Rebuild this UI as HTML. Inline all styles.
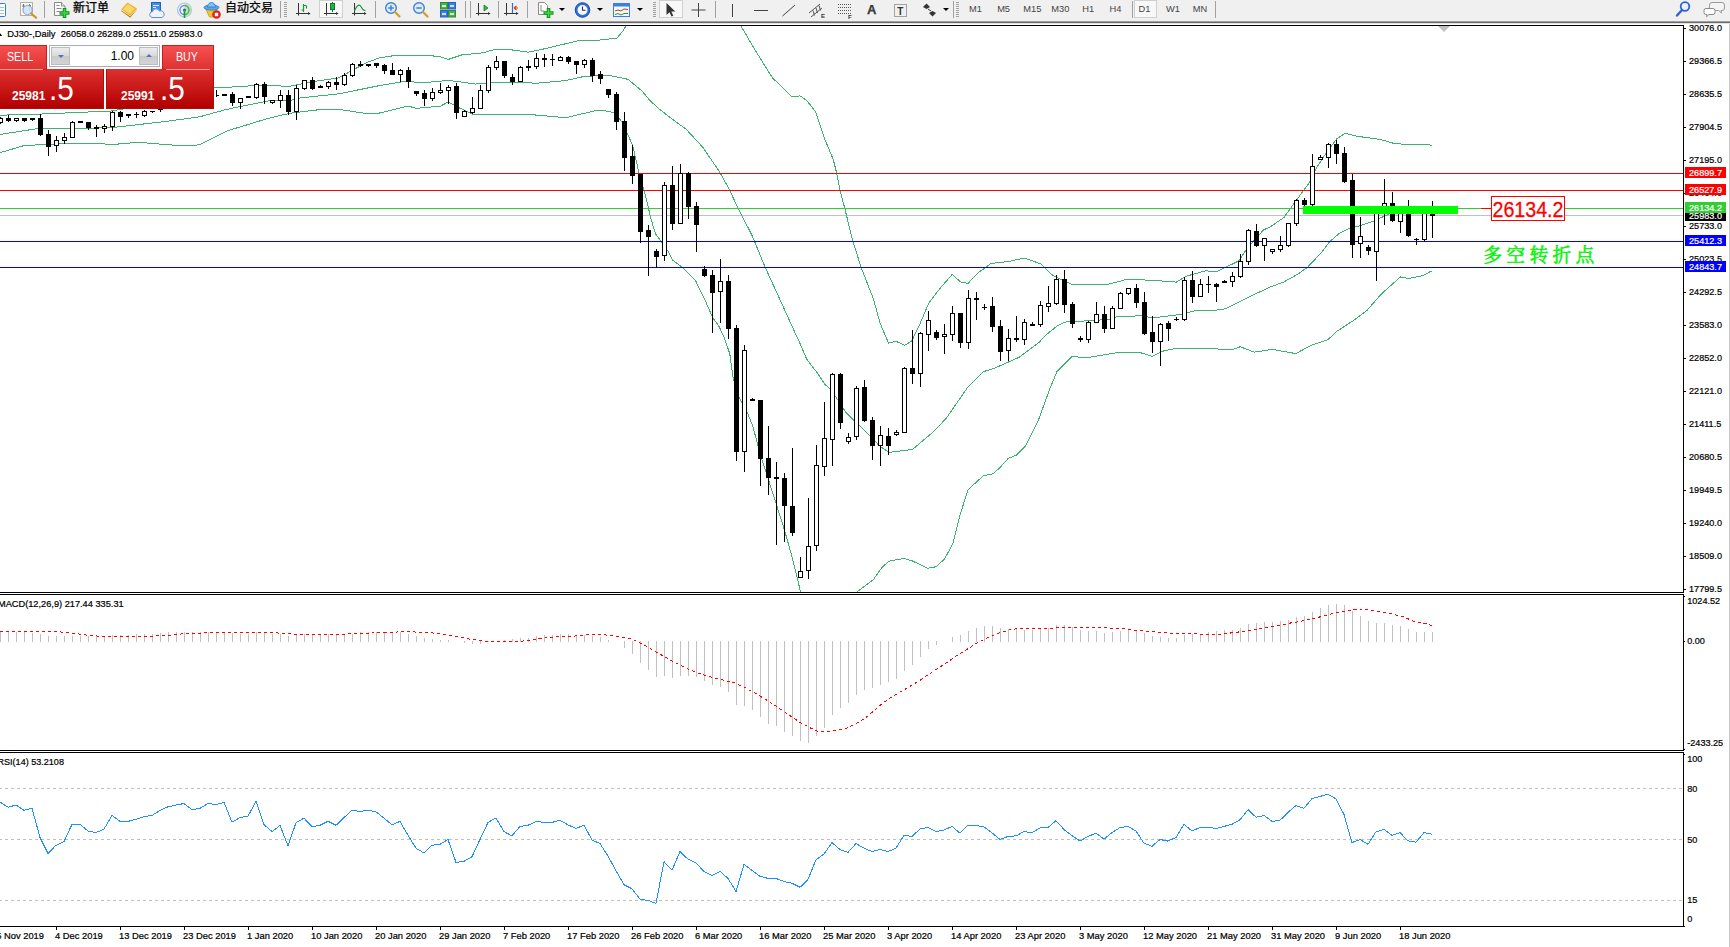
<!DOCTYPE html>
<html lang="zh">
<head>
<meta charset="utf-8">
<title>DJ30-,Daily</title>
<style>
html,body{margin:0;padding:0;background:#fff}
body{width:1730px;height:947px;overflow:hidden;position:relative;font-family:"Liberation Sans","Noto Sans CJK SC",sans-serif}
svg text{white-space:pre}
.tb{position:absolute;left:0;top:0;width:1730px;height:21px}
.tb .t{position:absolute;top:0;height:18px;line-height:17px;font-size:12px;color:#000;white-space:nowrap;font-weight:400;-webkit-text-stroke:0.25px #000}
.tb .p{position:absolute;top:2px;height:15px;line-height:15px;font-size:9.3px;color:#444;text-align:center;width:30px;margin-left:-15px}
.tb .sep{position:absolute;top:1px;width:1px;height:17px;background:#a0a0a0}
.tb .grip{position:absolute;top:2px;width:3px;height:15px;background:repeating-linear-gradient(#a0a0a0 0 1px,#f0f0f0 1px 2px)}
.tb .pressed{position:absolute;top:0;height:18px;background:#f8f8f8;border:1px solid #d0d0d0;box-sizing:border-box}
.tb svg{position:absolute;top:0;overflow:visible}
.dd{position:absolute;top:8px;width:0;height:0;border-left:3px solid transparent;border-right:3px solid transparent;border-top:3px solid #000}
.trade{position:absolute;left:0;top:45px;width:215px;height:65px}
.trade .sell,.trade .buy{position:absolute;top:0;height:25px;background:linear-gradient(#f55050,#e03232);border:1px solid #c81e1e;box-sizing:border-box;color:#fff;font-size:12px;line-height:22px}
.trade .sell{left:-1px;width:48px;padding-left:6.500px}
.trade .buy{left:162px;width:52px;padding-left:13px}
.trade .nx{display:inline-block;transform:scaleX(.89);transform-origin:0 50%}
.trade .sl,.trade .bl{position:absolute;top:24px;height:1px;background:#f7a0a0}
.trade .sl{left:0;width:43px}
.trade .bl{left:166px;width:44px}
.trade .big{position:absolute;top:24px;height:40px;background:linear-gradient(#de3030,#b20000);border:1px solid #b80a0a;border-top:none;box-sizing:border-box;color:#fff}
.trade .big.s{left:-1px;width:105px}
.trade .big.b{left:106px;width:108px}
.trade .sm{position:absolute;bottom:6px;font-size:12px;font-weight:bold;line-height:12px}
.trade .lg{position:absolute;bottom:3.5px;font-size:33px;line-height:33px;transform:scaleX(.9);transform-origin:0 0}
.vol{position:absolute;left:49px;top:0;width:111px;height:22px;border:1px solid #a8adb8;box-sizing:border-box;background:#fff}
.vol .sp{position:absolute;top:1px;width:19px;height:18px;background:linear-gradient(#ececec,#d9d9d9 50%,#c9c9c9 51%,#d4d4d4);border:1px solid #b8bcc4;box-sizing:border-box}
.vol .v{position:absolute;right:25px;top:0;font-size:12px;line-height:20px;color:#000}
.tri-d{position:absolute;left:6px;top:7px;width:0;height:0;border-left:3px solid transparent;border-right:3px solid transparent;border-top:3.500px solid #5a6cd0}
.tri-u{position:absolute;left:6px;top:6px;width:0;height:0;border-left:3px solid transparent;border-right:3px solid transparent;border-bottom:3.500px solid #5a6cd0}
</style>
</head>
<body>
<svg width="1730" height="947" viewBox="0 0 1730 947" style="position:absolute;left:0;top:0" shape-rendering="crispEdges">
<defs><clipPath id="cm"><rect x="0" y="26" width="1683" height="566"/></clipPath></defs>
<rect x="0" y="0" width="1730" height="947" fill="#fff"/>
<rect x="0" y="0" width="1730" height="21" fill="#f0f0f0"/>
<rect x="0" y="21" width="1730" height="1" fill="#a0a0a0"/>
<rect x="0" y="22" width="1730" height="1" fill="#696969"/>
<rect x="0" y="23" width="1730" height="1" fill="#e3e3e3"/>
<rect x="0" y="25" width="1684" height="1" fill="#000"/>
<rect x="0" y="592" width="1684" height="1" fill="#000"/>
<rect x="0" y="594" width="1684" height="1" fill="#000"/>
<rect x="0" y="750" width="1684" height="1" fill="#000"/>
<rect x="0" y="752" width="1684" height="1" fill="#000"/>
<rect x="0" y="926" width="1684" height="1" fill="#000"/>
<rect x="1683" y="25" width="1" height="568" fill="#000"/>
<rect x="1683" y="594" width="1" height="157" fill="#000"/>
<rect x="1683" y="752" width="1" height="175" fill="#000"/>
<rect x="1729" y="24" width="1" height="923" fill="#c8c8c8"/>
<g clip-path="url(#cm)">
<rect x="0" y="215" width="1683" height="1" fill="#c0c0c0"/>
<polyline points="0.0,115.2 40.0,114.1 111.0,111.0 140.0,106.0 170.0,99.0 200.0,91.0 216.0,87.4 236.0,86.9 255.5,85.5 290.0,86.2 315.0,81.3 338.7,77.9 352.6,70.2 366.5,62.6 380.0,57.7 397.0,55.2 427.5,55.2 440.8,57.0 448.4,59.4 461.6,55.0 482.4,52.9 496.3,49.1 506.0,49.1 528.2,52.2 544.9,48.7 579.5,40.4 600.4,40.0 617.0,38.0 623.2,30.7 627.0,24.0 640.0,0.0" fill="none" stroke="#3cb371" stroke-width="1"/>
<polyline points="730.0,0.0 740.9,25.9 754.8,49.6 772.2,77.5 791.4,96.6 800.1,95.9 807.1,100.8 815.8,112.3 824.5,138.4 833.2,159.3 836.7,173.3 840.2,190.7 844.7,208.1 852.4,239.4 861.1,267.3 873.3,298.6 880.0,322.8 883.7,331.7 888.6,343.2 895.6,341.2 904.7,345.2 911.8,341.0 920.3,323.0 928.8,303.0 939.7,288.8 952.3,274.3 960.5,282.0 968.1,283.3 977.1,273.6 991.0,263.5 1009.0,261.4 1024.3,258.0 1040.9,263.9 1052.0,274.7 1060.4,279.4 1072.1,284.4 1107.5,284.4 1120.0,281.2 1127.7,279.1 1158.3,280.7 1176.3,282.1 1186.0,276.3 1205.4,270.8 1216.5,271.7 1238.7,261.0 1247.0,248.6 1263.7,229.8 1270.0,227.0 1283.9,217.5 1297.7,198.5 1308.8,183.3 1317.2,166.6 1325.5,154.1 1336.6,138.9 1344.9,133.3 1356.0,136.1 1381.0,139.6 1394.9,143.7 1408.7,144.4 1428.2,144.4 1432.0,145.5" fill="none" stroke="#3cb371" stroke-width="1"/>
<polyline points="0.0,134.4 39.0,128.4 69.0,128.8 111.0,127.7 166.5,121.4 200.0,116.7 225.0,109.8 240.0,106.6 269.4,100.8 288.8,100.8 300.0,98.0 338.7,93.8 380.0,85.5 405.0,81.3 422.0,82.7 440.0,81.3 447.7,80.2 475.5,84.1 492.0,82.4 538.0,83.1 565.7,80.6 583.7,76.5 607.3,75.1 628.0,79.3 642.0,91.0 650.0,100.5 658.3,108.3 673.5,120.1 686.0,129.1 702.7,147.2 719.3,171.4 729.0,188.8 738.7,209.6 749.8,231.0 752.6,236.6 765.1,267.2 780.4,300.5 794.2,331.0 798.5,340.0 806.8,359.4 816.5,371.9 824.9,384.4 829.7,388.6 838.7,401.0 845.7,412.1 854.0,420.5 869.3,435.0 879.0,445.4 888.7,452.4 899.8,451.0 912.5,449.4 930.6,434.2 945.8,418.9 968.0,386.9 983.3,371.7 994.4,368.3 1019.4,357.2 1038.9,342.5 1046.5,334.6 1057.6,325.6 1065.9,321.9 1088.1,320.8 1108.9,319.4 1118.0,316.5 1141.6,315.8 1152.7,317.9 1180.5,314.5 1197.1,310.3 1215.2,310.3 1224.9,308.9 1245.7,298.5 1269.3,287.4 1283.9,281.9 1297.7,274.2 1307.5,267.3 1321.3,252.7 1329.7,241.6 1339.4,233.3 1347.7,229.1 1360.2,225.7 1372.7,221.5 1389.3,213.9 1410.0,211.5 1432.0,211.0" fill="none" stroke="#3cb371" stroke-width="1"/>
<polyline points="0.0,152.7 23.6,145.7 45.8,144.3 77.7,143.2 115.0,144.3 138.7,142.3 180.0,145.7 194.0,145.7 200.0,144.5 227.7,130.6 240.0,127.0 266.6,118.8 290.0,113.2 324.9,109.0 338.7,109.4 366.5,113.5 377.6,113.5 408.0,106.0 416.4,108.4 440.8,106.0 448.4,101.9 456.0,106.3 472.7,114.2 531.0,114.6 565.7,117.7 597.6,110.2 600.0,110.0 613.9,112.5 622.2,122.2 632.6,145.1 638.8,172.1 645.8,197.1 651.3,220.0 655.5,233.9 661.7,242.2 668.0,251.2 672.8,260.2 683.2,267.9 695.7,281.0 704.0,297.7 712.4,317.1 719.3,326.8 724.9,339.3 729.8,353.9 733.3,378.8 739.5,398.3 747.2,412.1 752.7,426.0 757.6,444.0 762.4,461.0 774.9,499.8 784.6,530.4 791.6,555.3 797.1,577.5 800.6,592.0 810.0,625.0 830.0,640.0 850.0,610.0 856.8,592.0 873.4,579.6 881.7,567.8 888.7,561.2 903.9,558.4 912.3,560.9 927.8,568.3 936.1,566.7 944.4,559.2 952.8,543.9 959.7,516.1 968.0,489.7 983.3,475.8 993.0,473.9 1000.0,467.5 1008.3,458.3 1016.7,455.0 1025.0,446.7 1038.9,418.9 1050.0,388.3 1056.9,371.7 1064.5,363.8 1072.2,356.4 1086.1,357.8 1116.7,352.8 1138.9,352.2 1152.2,356.4 1163.9,350.8 1177.8,348.0 1233.3,349.4 1240.3,346.7 1254.2,352.2 1272.2,349.4 1295.8,353.6 1311.1,345.3 1327.8,339.7 1337.3,331.0 1353.2,320.7 1367.1,310.3 1381.0,294.3 1400.4,277.0 1408.7,278.4 1422.6,275.6 1431.6,271.0" fill="none" stroke="#3cb371" stroke-width="1"/>
<rect x="0" y="173" width="1683" height="1" fill="#ff0000"/>
<rect x="0" y="190" width="1683" height="1" fill="#ff0000"/>
<rect x="0" y="208" width="1683" height="1" fill="#32cd32"/>
<rect x="0" y="241" width="1683" height="1" fill="#0000ff"/>
<rect x="0" y="267" width="1683" height="1" fill="#0000ff"/>
<rect x="0" y="117" width="1" height="7" fill="#000"/>
<rect x="-2" y="118" width="5" height="5" fill="#000"/>
<rect x="-1" y="119" width="3" height="3" fill="#fff"/>
<rect x="8" y="115" width="1" height="7" fill="#000"/>
<rect x="6" y="118" width="5" height="3" fill="#000"/>
<rect x="16" y="118" width="1" height="4" fill="#000"/>
<rect x="14" y="118" width="5" height="3" fill="#000"/>
<rect x="15" y="119" width="3" height="1" fill="#fff"/>
<rect x="24" y="118" width="1" height="4" fill="#000"/>
<rect x="22" y="118" width="5" height="3" fill="#000"/>
<rect x="32" y="118" width="1" height="3" fill="#000"/>
<rect x="30" y="118" width="5" height="2" fill="#000"/>
<rect x="40" y="114" width="1" height="22" fill="#000"/>
<rect x="38" y="118" width="5" height="17" fill="#000"/>
<rect x="48" y="130" width="1" height="26" fill="#000"/>
<rect x="46" y="134" width="5" height="13" fill="#000"/>
<rect x="56" y="136" width="1" height="16" fill="#000"/>
<rect x="54" y="140" width="5" height="6" fill="#000"/>
<rect x="55" y="141" width="3" height="4" fill="#fff"/>
<rect x="64" y="133" width="1" height="11" fill="#000"/>
<rect x="62" y="137" width="5" height="4" fill="#000"/>
<rect x="63" y="138" width="3" height="2" fill="#fff"/>
<rect x="72" y="121" width="1" height="17" fill="#000"/>
<rect x="70" y="122" width="5" height="16" fill="#000"/>
<rect x="71" y="123" width="3" height="14" fill="#fff"/>
<rect x="80" y="121" width="1" height="2" fill="#000"/>
<rect x="78" y="121" width="5" height="2" fill="#000"/>
<rect x="88" y="122" width="1" height="8" fill="#000"/>
<rect x="86" y="122" width="5" height="6" fill="#000"/>
<rect x="96" y="125" width="1" height="12" fill="#000"/>
<rect x="94" y="127" width="5" height="2" fill="#000"/>
<rect x="104" y="124" width="1" height="9" fill="#000"/>
<rect x="102" y="126" width="5" height="3" fill="#000"/>
<rect x="103" y="127" width="3" height="1" fill="#fff"/>
<rect x="112" y="111" width="1" height="20" fill="#000"/>
<rect x="110" y="112" width="5" height="15" fill="#000"/>
<rect x="111" y="113" width="3" height="13" fill="#fff"/>
<rect x="120" y="111" width="1" height="11" fill="#000"/>
<rect x="118" y="112" width="5" height="5" fill="#000"/>
<rect x="128" y="114" width="1" height="4" fill="#000"/>
<rect x="126" y="114" width="5" height="2" fill="#000"/>
<rect x="136" y="112" width="1" height="6" fill="#000"/>
<rect x="134" y="114" width="5" height="1" fill="#000"/>
<rect x="144" y="110" width="1" height="7" fill="#000"/>
<rect x="142" y="111" width="5" height="5" fill="#000"/>
<rect x="143" y="112" width="3" height="3" fill="#fff"/>
<rect x="152" y="111" width="1" height="2" fill="#000"/>
<rect x="150" y="111" width="5" height="1" fill="#000"/>
<rect x="160" y="108" width="1" height="4" fill="#000"/>
<rect x="158" y="109" width="5" height="1" fill="#000"/>
<rect x="168" y="103" width="1" height="5" fill="#000"/>
<rect x="166" y="104" width="5" height="3" fill="#000"/>
<rect x="167" y="105" width="3" height="1" fill="#fff"/>
<rect x="176" y="102" width="1" height="4" fill="#000"/>
<rect x="174" y="103" width="5" height="3" fill="#000"/>
<rect x="175" y="104" width="3" height="1" fill="#fff"/>
<rect x="184" y="100" width="1" height="4" fill="#000"/>
<rect x="182" y="101" width="5" height="3" fill="#000"/>
<rect x="183" y="102" width="3" height="1" fill="#fff"/>
<rect x="192" y="98" width="1" height="5" fill="#000"/>
<rect x="190" y="99" width="5" height="3" fill="#000"/>
<rect x="191" y="100" width="3" height="1" fill="#fff"/>
<rect x="200" y="96" width="1" height="4" fill="#000"/>
<rect x="198" y="97" width="5" height="3" fill="#000"/>
<rect x="199" y="98" width="3" height="1" fill="#fff"/>
<rect x="208" y="93" width="1" height="5" fill="#000"/>
<rect x="206" y="94" width="5" height="3" fill="#000"/>
<rect x="207" y="95" width="3" height="1" fill="#fff"/>
<rect x="216" y="90" width="1" height="7" fill="#000"/>
<rect x="216" y="95" width="3" height="1" fill="#000"/>
<rect x="224" y="94" width="1" height="2" fill="#000"/>
<rect x="222" y="94" width="5" height="2" fill="#000"/>
<rect x="232" y="92" width="1" height="14" fill="#000"/>
<rect x="230" y="94" width="5" height="9" fill="#000"/>
<rect x="240" y="98" width="1" height="11" fill="#000"/>
<rect x="238" y="98" width="5" height="5" fill="#000"/>
<rect x="239" y="99" width="3" height="3" fill="#fff"/>
<rect x="248" y="96" width="1" height="2" fill="#000"/>
<rect x="246" y="96" width="5" height="2" fill="#000"/>
<rect x="256" y="83" width="1" height="16" fill="#000"/>
<rect x="254" y="84" width="5" height="14" fill="#000"/>
<rect x="255" y="85" width="3" height="12" fill="#fff"/>
<rect x="264" y="82" width="1" height="22" fill="#000"/>
<rect x="262" y="84" width="5" height="13" fill="#000"/>
<rect x="272" y="100" width="1" height="4" fill="#000"/>
<rect x="270" y="100" width="5" height="3" fill="#000"/>
<rect x="271" y="101" width="3" height="1" fill="#fff"/>
<rect x="280" y="90" width="1" height="18" fill="#000"/>
<rect x="278" y="95" width="5" height="6" fill="#000"/>
<rect x="279" y="96" width="3" height="4" fill="#fff"/>
<rect x="288" y="90" width="1" height="25" fill="#000"/>
<rect x="286" y="95" width="5" height="17" fill="#000"/>
<rect x="296" y="85" width="1" height="35" fill="#000"/>
<rect x="294" y="88" width="5" height="24" fill="#000"/>
<rect x="295" y="89" width="3" height="22" fill="#fff"/>
<rect x="304" y="80" width="1" height="10" fill="#000"/>
<rect x="302" y="80" width="5" height="9" fill="#000"/>
<rect x="303" y="81" width="3" height="7" fill="#fff"/>
<rect x="312" y="77" width="1" height="13" fill="#000"/>
<rect x="310" y="80" width="5" height="9" fill="#000"/>
<rect x="320" y="85" width="1" height="3" fill="#000"/>
<rect x="318" y="86" width="5" height="2" fill="#000"/>
<rect x="328" y="81" width="1" height="8" fill="#000"/>
<rect x="326" y="82" width="5" height="5" fill="#000"/>
<rect x="327" y="83" width="3" height="3" fill="#fff"/>
<rect x="336" y="77" width="1" height="13" fill="#000"/>
<rect x="334" y="82" width="5" height="3" fill="#000"/>
<rect x="344" y="73" width="1" height="13" fill="#000"/>
<rect x="342" y="75" width="5" height="10" fill="#000"/>
<rect x="343" y="76" width="3" height="8" fill="#fff"/>
<rect x="352" y="63" width="1" height="14" fill="#000"/>
<rect x="350" y="64" width="5" height="12" fill="#000"/>
<rect x="351" y="65" width="3" height="10" fill="#fff"/>
<rect x="360" y="61" width="1" height="6" fill="#000"/>
<rect x="358" y="64" width="5" height="2" fill="#000"/>
<rect x="368" y="64" width="1" height="3" fill="#000"/>
<rect x="366" y="64" width="5" height="2" fill="#000"/>
<rect x="376" y="63" width="1" height="5" fill="#000"/>
<rect x="374" y="63" width="5" height="3" fill="#000"/>
<rect x="384" y="64" width="1" height="10" fill="#000"/>
<rect x="382" y="65" width="5" height="6" fill="#000"/>
<rect x="392" y="63" width="1" height="12" fill="#000"/>
<rect x="390" y="70" width="5" height="5" fill="#000"/>
<rect x="400" y="69" width="1" height="13" fill="#000"/>
<rect x="398" y="70" width="5" height="5" fill="#000"/>
<rect x="399" y="71" width="3" height="3" fill="#fff"/>
<rect x="408" y="67" width="1" height="21" fill="#000"/>
<rect x="406" y="70" width="5" height="12" fill="#000"/>
<rect x="416" y="91" width="1" height="5" fill="#000"/>
<rect x="414" y="91" width="5" height="3" fill="#000"/>
<rect x="424" y="90" width="1" height="16" fill="#000"/>
<rect x="422" y="93" width="5" height="6" fill="#000"/>
<rect x="432" y="88" width="1" height="13" fill="#000"/>
<rect x="430" y="92" width="5" height="7" fill="#000"/>
<rect x="431" y="93" width="3" height="5" fill="#fff"/>
<rect x="440" y="83" width="1" height="11" fill="#000"/>
<rect x="438" y="90" width="5" height="3" fill="#000"/>
<rect x="439" y="91" width="3" height="1" fill="#fff"/>
<rect x="448" y="85" width="1" height="19" fill="#000"/>
<rect x="446" y="87" width="5" height="4" fill="#000"/>
<rect x="447" y="88" width="3" height="2" fill="#fff"/>
<rect x="456" y="83" width="1" height="36" fill="#000"/>
<rect x="454" y="86" width="5" height="27" fill="#000"/>
<rect x="464" y="110" width="1" height="7" fill="#000"/>
<rect x="462" y="111" width="5" height="6" fill="#000"/>
<rect x="463" y="112" width="3" height="4" fill="#fff"/>
<rect x="472" y="97" width="1" height="17" fill="#000"/>
<rect x="470" y="108" width="5" height="5" fill="#000"/>
<rect x="471" y="109" width="3" height="3" fill="#fff"/>
<rect x="480" y="85" width="1" height="24" fill="#000"/>
<rect x="478" y="90" width="5" height="19" fill="#000"/>
<rect x="479" y="91" width="3" height="17" fill="#fff"/>
<rect x="488" y="65" width="1" height="28" fill="#000"/>
<rect x="486" y="67" width="5" height="24" fill="#000"/>
<rect x="487" y="68" width="3" height="22" fill="#fff"/>
<rect x="496" y="56" width="1" height="14" fill="#000"/>
<rect x="494" y="61" width="5" height="7" fill="#000"/>
<rect x="495" y="62" width="3" height="5" fill="#fff"/>
<rect x="504" y="61" width="1" height="17" fill="#000"/>
<rect x="502" y="61" width="5" height="15" fill="#000"/>
<rect x="512" y="74" width="1" height="11" fill="#000"/>
<rect x="510" y="77" width="5" height="5" fill="#000"/>
<rect x="520" y="66" width="1" height="16" fill="#000"/>
<rect x="518" y="67" width="5" height="15" fill="#000"/>
<rect x="519" y="68" width="3" height="13" fill="#fff"/>
<rect x="528" y="60" width="1" height="11" fill="#000"/>
<rect x="526" y="66" width="5" height="2" fill="#000"/>
<rect x="536" y="53" width="1" height="16" fill="#000"/>
<rect x="534" y="58" width="5" height="9" fill="#000"/>
<rect x="535" y="59" width="3" height="7" fill="#fff"/>
<rect x="544" y="54" width="1" height="13" fill="#000"/>
<rect x="542" y="58" width="5" height="2" fill="#000"/>
<rect x="552" y="54" width="1" height="12" fill="#000"/>
<rect x="550" y="59" width="5" height="1" fill="#000"/>
<rect x="560" y="56" width="1" height="5" fill="#000"/>
<rect x="558" y="57" width="5" height="4" fill="#000"/>
<rect x="559" y="58" width="3" height="2" fill="#fff"/>
<rect x="568" y="56" width="1" height="8" fill="#000"/>
<rect x="566" y="57" width="5" height="5" fill="#000"/>
<rect x="576" y="61" width="1" height="13" fill="#000"/>
<rect x="574" y="61" width="5" height="4" fill="#000"/>
<rect x="584" y="59" width="1" height="9" fill="#000"/>
<rect x="582" y="60" width="5" height="5" fill="#000"/>
<rect x="583" y="61" width="3" height="3" fill="#fff"/>
<rect x="592" y="58" width="1" height="24" fill="#000"/>
<rect x="590" y="60" width="5" height="16" fill="#000"/>
<rect x="600" y="71" width="1" height="13" fill="#000"/>
<rect x="598" y="74" width="5" height="5" fill="#000"/>
<rect x="608" y="89" width="1" height="9" fill="#000"/>
<rect x="606" y="89" width="5" height="6" fill="#000"/>
<rect x="616" y="92" width="1" height="38" fill="#000"/>
<rect x="614" y="94" width="5" height="28" fill="#000"/>
<rect x="624" y="112" width="1" height="59" fill="#000"/>
<rect x="622" y="121" width="5" height="37" fill="#000"/>
<rect x="632" y="145" width="1" height="39" fill="#000"/>
<rect x="630" y="156" width="5" height="20" fill="#000"/>
<rect x="640" y="174" width="1" height="69" fill="#000"/>
<rect x="638" y="174" width="5" height="58" fill="#000"/>
<rect x="648" y="225" width="1" height="51" fill="#000"/>
<rect x="646" y="230" width="5" height="7" fill="#000"/>
<rect x="656" y="249" width="1" height="19" fill="#000"/>
<rect x="654" y="251" width="5" height="6" fill="#000"/>
<rect x="664" y="182" width="1" height="79" fill="#000"/>
<rect x="662" y="185" width="5" height="71" fill="#000"/>
<rect x="663" y="186" width="3" height="69" fill="#fff"/>
<rect x="672" y="166" width="1" height="64" fill="#000"/>
<rect x="670" y="185" width="5" height="39" fill="#000"/>
<rect x="680" y="164" width="1" height="60" fill="#000"/>
<rect x="678" y="173" width="5" height="51" fill="#000"/>
<rect x="679" y="174" width="3" height="49" fill="#fff"/>
<rect x="688" y="172" width="1" height="47" fill="#000"/>
<rect x="686" y="173" width="5" height="34" fill="#000"/>
<rect x="696" y="202" width="1" height="50" fill="#000"/>
<rect x="694" y="206" width="5" height="19" fill="#000"/>
<rect x="704" y="266" width="1" height="11" fill="#000"/>
<rect x="702" y="269" width="5" height="7" fill="#000"/>
<rect x="712" y="270" width="1" height="63" fill="#000"/>
<rect x="710" y="275" width="5" height="18" fill="#000"/>
<rect x="720" y="259" width="1" height="64" fill="#000"/>
<rect x="718" y="281" width="5" height="11" fill="#000"/>
<rect x="719" y="282" width="3" height="9" fill="#fff"/>
<rect x="728" y="275" width="1" height="64" fill="#000"/>
<rect x="726" y="281" width="5" height="48" fill="#000"/>
<rect x="736" y="325" width="1" height="136" fill="#000"/>
<rect x="734" y="328" width="5" height="124" fill="#000"/>
<rect x="744" y="345" width="1" height="127" fill="#000"/>
<rect x="742" y="350" width="5" height="102" fill="#000"/>
<rect x="743" y="351" width="3" height="100" fill="#fff"/>
<rect x="752" y="398" width="1" height="3" fill="#000"/>
<rect x="750" y="399" width="5" height="2" fill="#000"/>
<rect x="760" y="400" width="1" height="86" fill="#000"/>
<rect x="758" y="400" width="5" height="59" fill="#000"/>
<rect x="768" y="426" width="1" height="69" fill="#000"/>
<rect x="766" y="458" width="5" height="20" fill="#000"/>
<rect x="776" y="462" width="1" height="83" fill="#000"/>
<rect x="774" y="477" width="5" height="2" fill="#000"/>
<rect x="784" y="473" width="1" height="69" fill="#000"/>
<rect x="782" y="478" width="5" height="28" fill="#000"/>
<rect x="792" y="448" width="1" height="88" fill="#000"/>
<rect x="790" y="506" width="5" height="27" fill="#000"/>
<rect x="800" y="557" width="1" height="21" fill="#000"/>
<rect x="798" y="571" width="5" height="7" fill="#000"/>
<rect x="799" y="572" width="3" height="5" fill="#fff"/>
<rect x="808" y="498" width="1" height="81" fill="#000"/>
<rect x="806" y="546" width="5" height="25" fill="#000"/>
<rect x="807" y="547" width="3" height="23" fill="#fff"/>
<rect x="816" y="445" width="1" height="106" fill="#000"/>
<rect x="814" y="465" width="5" height="81" fill="#000"/>
<rect x="815" y="466" width="3" height="79" fill="#fff"/>
<rect x="824" y="402" width="1" height="74" fill="#000"/>
<rect x="822" y="438" width="5" height="29" fill="#000"/>
<rect x="823" y="439" width="3" height="27" fill="#fff"/>
<rect x="832" y="373" width="1" height="93" fill="#000"/>
<rect x="830" y="374" width="5" height="66" fill="#000"/>
<rect x="831" y="375" width="3" height="64" fill="#fff"/>
<rect x="840" y="373" width="1" height="56" fill="#000"/>
<rect x="838" y="374" width="5" height="49" fill="#000"/>
<rect x="848" y="433" width="1" height="11" fill="#000"/>
<rect x="846" y="437" width="5" height="5" fill="#000"/>
<rect x="847" y="438" width="3" height="3" fill="#fff"/>
<rect x="856" y="386" width="1" height="54" fill="#000"/>
<rect x="854" y="388" width="5" height="49" fill="#000"/>
<rect x="855" y="389" width="3" height="47" fill="#fff"/>
<rect x="864" y="380" width="1" height="42" fill="#000"/>
<rect x="862" y="387" width="5" height="34" fill="#000"/>
<rect x="872" y="417" width="1" height="43" fill="#000"/>
<rect x="870" y="420" width="5" height="26" fill="#000"/>
<rect x="880" y="426" width="1" height="40" fill="#000"/>
<rect x="878" y="435" width="5" height="11" fill="#000"/>
<rect x="879" y="436" width="3" height="9" fill="#fff"/>
<rect x="888" y="428" width="1" height="27" fill="#000"/>
<rect x="886" y="436" width="5" height="10" fill="#000"/>
<rect x="896" y="430" width="1" height="6" fill="#000"/>
<rect x="894" y="432" width="5" height="3" fill="#000"/>
<rect x="895" y="433" width="3" height="1" fill="#fff"/>
<rect x="904" y="367" width="1" height="66" fill="#000"/>
<rect x="902" y="368" width="5" height="65" fill="#000"/>
<rect x="903" y="369" width="3" height="63" fill="#fff"/>
<rect x="912" y="330" width="1" height="54" fill="#000"/>
<rect x="910" y="368" width="5" height="6" fill="#000"/>
<rect x="920" y="332" width="1" height="55" fill="#000"/>
<rect x="918" y="333" width="5" height="41" fill="#000"/>
<rect x="919" y="334" width="3" height="39" fill="#fff"/>
<rect x="928" y="311" width="1" height="40" fill="#000"/>
<rect x="926" y="320" width="5" height="15" fill="#000"/>
<rect x="927" y="321" width="3" height="13" fill="#fff"/>
<rect x="936" y="330" width="1" height="10" fill="#000"/>
<rect x="934" y="332" width="5" height="6" fill="#000"/>
<rect x="944" y="324" width="1" height="30" fill="#000"/>
<rect x="942" y="334" width="5" height="3" fill="#000"/>
<rect x="943" y="335" width="3" height="1" fill="#fff"/>
<rect x="952" y="306" width="1" height="35" fill="#000"/>
<rect x="950" y="313" width="5" height="22" fill="#000"/>
<rect x="951" y="314" width="3" height="20" fill="#fff"/>
<rect x="960" y="313" width="1" height="35" fill="#000"/>
<rect x="958" y="313" width="5" height="30" fill="#000"/>
<rect x="968" y="290" width="1" height="59" fill="#000"/>
<rect x="966" y="298" width="5" height="45" fill="#000"/>
<rect x="967" y="299" width="3" height="43" fill="#fff"/>
<rect x="976" y="292" width="1" height="28" fill="#000"/>
<rect x="974" y="298" width="5" height="2" fill="#000"/>
<rect x="984" y="304" width="1" height="6" fill="#000"/>
<rect x="982" y="307" width="5" height="1" fill="#000"/>
<rect x="992" y="297" width="1" height="35" fill="#000"/>
<rect x="990" y="306" width="5" height="21" fill="#000"/>
<rect x="1000" y="320" width="1" height="41" fill="#000"/>
<rect x="998" y="326" width="5" height="26" fill="#000"/>
<rect x="1008" y="329" width="1" height="32" fill="#000"/>
<rect x="1006" y="338" width="5" height="13" fill="#000"/>
<rect x="1007" y="339" width="3" height="11" fill="#fff"/>
<rect x="1016" y="316" width="1" height="26" fill="#000"/>
<rect x="1014" y="338" width="5" height="2" fill="#000"/>
<rect x="1024" y="319" width="1" height="26" fill="#000"/>
<rect x="1022" y="322" width="5" height="18" fill="#000"/>
<rect x="1023" y="323" width="3" height="16" fill="#fff"/>
<rect x="1032" y="322" width="1" height="4" fill="#000"/>
<rect x="1030" y="324" width="5" height="2" fill="#000"/>
<rect x="1040" y="301" width="1" height="26" fill="#000"/>
<rect x="1038" y="305" width="5" height="20" fill="#000"/>
<rect x="1039" y="306" width="3" height="18" fill="#fff"/>
<rect x="1048" y="286" width="1" height="26" fill="#000"/>
<rect x="1046" y="303" width="5" height="4" fill="#000"/>
<rect x="1047" y="304" width="3" height="2" fill="#fff"/>
<rect x="1056" y="275" width="1" height="30" fill="#000"/>
<rect x="1054" y="279" width="5" height="25" fill="#000"/>
<rect x="1055" y="280" width="3" height="23" fill="#fff"/>
<rect x="1064" y="270" width="1" height="43" fill="#000"/>
<rect x="1062" y="279" width="5" height="26" fill="#000"/>
<rect x="1072" y="302" width="1" height="26" fill="#000"/>
<rect x="1070" y="304" width="5" height="20" fill="#000"/>
<rect x="1080" y="336" width="1" height="6" fill="#000"/>
<rect x="1078" y="338" width="5" height="2" fill="#000"/>
<rect x="1088" y="321" width="1" height="22" fill="#000"/>
<rect x="1086" y="322" width="5" height="18" fill="#000"/>
<rect x="1087" y="323" width="3" height="16" fill="#fff"/>
<rect x="1096" y="302" width="1" height="21" fill="#000"/>
<rect x="1094" y="314" width="5" height="9" fill="#000"/>
<rect x="1095" y="315" width="3" height="7" fill="#fff"/>
<rect x="1104" y="306" width="1" height="27" fill="#000"/>
<rect x="1102" y="314" width="5" height="15" fill="#000"/>
<rect x="1112" y="306" width="1" height="23" fill="#000"/>
<rect x="1110" y="308" width="5" height="21" fill="#000"/>
<rect x="1111" y="309" width="3" height="19" fill="#fff"/>
<rect x="1120" y="292" width="1" height="17" fill="#000"/>
<rect x="1118" y="293" width="5" height="16" fill="#000"/>
<rect x="1119" y="294" width="3" height="14" fill="#fff"/>
<rect x="1128" y="288" width="1" height="7" fill="#000"/>
<rect x="1126" y="288" width="5" height="6" fill="#000"/>
<rect x="1127" y="289" width="3" height="4" fill="#fff"/>
<rect x="1136" y="284" width="1" height="24" fill="#000"/>
<rect x="1134" y="288" width="5" height="15" fill="#000"/>
<rect x="1144" y="292" width="1" height="43" fill="#000"/>
<rect x="1142" y="302" width="5" height="32" fill="#000"/>
<rect x="1152" y="316" width="1" height="37" fill="#000"/>
<rect x="1150" y="332" width="5" height="10" fill="#000"/>
<rect x="1160" y="323" width="1" height="43" fill="#000"/>
<rect x="1158" y="324" width="5" height="18" fill="#000"/>
<rect x="1159" y="325" width="3" height="16" fill="#fff"/>
<rect x="1168" y="321" width="1" height="20" fill="#000"/>
<rect x="1166" y="323" width="5" height="6" fill="#000"/>
<rect x="1176" y="317" width="1" height="4" fill="#000"/>
<rect x="1174" y="319" width="5" height="1" fill="#000"/>
<rect x="1184" y="277" width="1" height="44" fill="#000"/>
<rect x="1182" y="280" width="5" height="40" fill="#000"/>
<rect x="1183" y="281" width="3" height="38" fill="#fff"/>
<rect x="1192" y="271" width="1" height="32" fill="#000"/>
<rect x="1190" y="280" width="5" height="17" fill="#000"/>
<rect x="1200" y="279" width="1" height="18" fill="#000"/>
<rect x="1198" y="284" width="5" height="13" fill="#000"/>
<rect x="1199" y="285" width="3" height="11" fill="#fff"/>
<rect x="1208" y="276" width="1" height="17" fill="#000"/>
<rect x="1206" y="284" width="5" height="1" fill="#000"/>
<rect x="1216" y="283" width="1" height="19" fill="#000"/>
<rect x="1214" y="284" width="5" height="3" fill="#000"/>
<rect x="1224" y="280" width="1" height="3" fill="#000"/>
<rect x="1222" y="281" width="5" height="2" fill="#000"/>
<rect x="1232" y="272" width="1" height="15" fill="#000"/>
<rect x="1230" y="276" width="5" height="6" fill="#000"/>
<rect x="1231" y="277" width="3" height="4" fill="#fff"/>
<rect x="1240" y="254" width="1" height="24" fill="#000"/>
<rect x="1238" y="261" width="5" height="16" fill="#000"/>
<rect x="1239" y="262" width="3" height="14" fill="#fff"/>
<rect x="1248" y="229" width="1" height="36" fill="#000"/>
<rect x="1246" y="230" width="5" height="32" fill="#000"/>
<rect x="1247" y="231" width="3" height="30" fill="#fff"/>
<rect x="1256" y="224" width="1" height="23" fill="#000"/>
<rect x="1254" y="231" width="5" height="15" fill="#000"/>
<rect x="1264" y="238" width="1" height="23" fill="#000"/>
<rect x="1262" y="238" width="5" height="8" fill="#000"/>
<rect x="1263" y="239" width="3" height="6" fill="#fff"/>
<rect x="1272" y="249" width="1" height="5" fill="#000"/>
<rect x="1270" y="249" width="5" height="3" fill="#000"/>
<rect x="1271" y="250" width="3" height="1" fill="#fff"/>
<rect x="1280" y="236" width="1" height="16" fill="#000"/>
<rect x="1278" y="245" width="5" height="5" fill="#000"/>
<rect x="1279" y="246" width="3" height="3" fill="#fff"/>
<rect x="1288" y="223" width="1" height="24" fill="#000"/>
<rect x="1286" y="223" width="5" height="23" fill="#000"/>
<rect x="1287" y="224" width="3" height="21" fill="#fff"/>
<rect x="1296" y="199" width="1" height="27" fill="#000"/>
<rect x="1294" y="200" width="5" height="24" fill="#000"/>
<rect x="1295" y="201" width="3" height="22" fill="#fff"/>
<rect x="1304" y="198" width="1" height="8" fill="#000"/>
<rect x="1302" y="200" width="5" height="5" fill="#000"/>
<rect x="1312" y="154" width="1" height="52" fill="#000"/>
<rect x="1310" y="166" width="5" height="39" fill="#000"/>
<rect x="1311" y="167" width="3" height="37" fill="#fff"/>
<rect x="1320" y="155" width="1" height="5" fill="#000"/>
<rect x="1318" y="157" width="5" height="3" fill="#000"/>
<rect x="1319" y="158" width="3" height="1" fill="#fff"/>
<rect x="1328" y="143" width="1" height="25" fill="#000"/>
<rect x="1326" y="144" width="5" height="14" fill="#000"/>
<rect x="1327" y="145" width="3" height="12" fill="#fff"/>
<rect x="1336" y="140" width="1" height="24" fill="#000"/>
<rect x="1334" y="144" width="5" height="10" fill="#000"/>
<rect x="1344" y="147" width="1" height="36" fill="#000"/>
<rect x="1342" y="153" width="5" height="29" fill="#000"/>
<rect x="1352" y="174" width="1" height="84" fill="#000"/>
<rect x="1350" y="180" width="5" height="65" fill="#000"/>
<rect x="1360" y="217" width="1" height="41" fill="#000"/>
<rect x="1358" y="236" width="5" height="8" fill="#000"/>
<rect x="1359" y="237" width="3" height="6" fill="#fff"/>
<rect x="1368" y="245" width="1" height="10" fill="#000"/>
<rect x="1366" y="247" width="5" height="4" fill="#000"/>
<rect x="1376" y="206" width="1" height="75" fill="#000"/>
<rect x="1374" y="207" width="5" height="45" fill="#000"/>
<rect x="1375" y="208" width="3" height="43" fill="#fff"/>
<rect x="1384" y="179" width="1" height="46" fill="#000"/>
<rect x="1382" y="203" width="5" height="7" fill="#000"/>
<rect x="1383" y="204" width="3" height="5" fill="#fff"/>
<rect x="1392" y="192" width="1" height="30" fill="#000"/>
<rect x="1390" y="203" width="5" height="18" fill="#000"/>
<rect x="1400" y="210" width="1" height="23" fill="#000"/>
<rect x="1398" y="211" width="5" height="11" fill="#000"/>
<rect x="1399" y="212" width="3" height="9" fill="#fff"/>
<rect x="1408" y="200" width="1" height="37" fill="#000"/>
<rect x="1406" y="210" width="5" height="26" fill="#000"/>
<rect x="1416" y="238" width="1" height="7" fill="#000"/>
<rect x="1414" y="239" width="5" height="1" fill="#000"/>
<rect x="1424" y="207" width="1" height="35" fill="#000"/>
<rect x="1422" y="208" width="5" height="32" fill="#000"/>
<rect x="1423" y="209" width="3" height="30" fill="#fff"/>
<rect x="1432" y="201" width="1" height="37" fill="#000"/>
<rect x="1430" y="211" width="5" height="5" fill="#000"/>
<rect x="1303" y="206" width="155" height="8" fill="#00ff00"/>
<rect x="1481" y="208" width="10" height="1" fill="#ff0000"/>
<rect x="1491.5" y="196.5" width="73" height="24" fill="#fff" stroke="#ff0000" stroke-width="1"/>
<polygon points="1438,26 1450,26 1444,32" fill="#c0c0c0" shape-rendering="auto"/>
</g>
<text x="1528" y="217.3" font-family='"Liberation Sans","Noto Sans CJK SC",sans-serif' font-size="22" fill="#ff0000" stroke="#ff0000" stroke-width="0.3" text-anchor="middle" textLength="71" lengthAdjust="spacingAndGlyphs">26134.2</text>
<text x="1483.3" y="262.2" font-family='"Liberation Serif","Noto Serif CJK SC",serif' font-size="18.8" fill="#00f400" stroke="#00f400" stroke-width="0.55" textLength="111" lengthAdjust="spacing">多空转折点</text>
<rect x="1684" y="28" width="2" height="1" fill="#000"/>
<text transform="translate(1689,31.3) scale(0.95,1)" font-family='"Liberation Sans","Noto Sans CJK SC",sans-serif' font-size="9.6" fill="#000" stroke="#000" stroke-width="0.22" >30076.0</text>
<rect x="1684" y="61" width="2" height="1" fill="#000"/>
<text transform="translate(1689,64.3) scale(0.95,1)" font-family='"Liberation Sans","Noto Sans CJK SC",sans-serif' font-size="9.6" fill="#000" stroke="#000" stroke-width="0.22" >29366.5</text>
<rect x="1684" y="94" width="2" height="1" fill="#000"/>
<text transform="translate(1689,97.3) scale(0.95,1)" font-family='"Liberation Sans","Noto Sans CJK SC",sans-serif' font-size="9.6" fill="#000" stroke="#000" stroke-width="0.22" >28635.5</text>
<rect x="1684" y="127" width="2" height="1" fill="#000"/>
<text transform="translate(1689,130.3) scale(0.95,1)" font-family='"Liberation Sans","Noto Sans CJK SC",sans-serif' font-size="9.6" fill="#000" stroke="#000" stroke-width="0.22" >27904.5</text>
<rect x="1684" y="160" width="2" height="1" fill="#000"/>
<text transform="translate(1689,163.3) scale(0.95,1)" font-family='"Liberation Sans","Noto Sans CJK SC",sans-serif' font-size="9.6" fill="#000" stroke="#000" stroke-width="0.22" >27195.0</text>
<rect x="1684" y="193" width="2" height="1" fill="#000"/>
<text transform="translate(1689,196.3) scale(0.95,1)" font-family='"Liberation Sans","Noto Sans CJK SC",sans-serif' font-size="9.6" fill="#000" stroke="#000" stroke-width="0.22" >26464.0</text>
<rect x="1684" y="226" width="2" height="1" fill="#000"/>
<text transform="translate(1689,229.3) scale(0.95,1)" font-family='"Liberation Sans","Noto Sans CJK SC",sans-serif' font-size="9.6" fill="#000" stroke="#000" stroke-width="0.22" >25733.0</text>
<rect x="1684" y="259" width="2" height="1" fill="#000"/>
<text transform="translate(1689,262.3) scale(0.95,1)" font-family='"Liberation Sans","Noto Sans CJK SC",sans-serif' font-size="9.6" fill="#000" stroke="#000" stroke-width="0.22" >25023.5</text>
<rect x="1684" y="292" width="2" height="1" fill="#000"/>
<text transform="translate(1689,295.3) scale(0.95,1)" font-family='"Liberation Sans","Noto Sans CJK SC",sans-serif' font-size="9.6" fill="#000" stroke="#000" stroke-width="0.22" >24292.5</text>
<rect x="1684" y="325" width="2" height="1" fill="#000"/>
<text transform="translate(1689,328.3) scale(0.95,1)" font-family='"Liberation Sans","Noto Sans CJK SC",sans-serif' font-size="9.6" fill="#000" stroke="#000" stroke-width="0.22" >23583.0</text>
<rect x="1684" y="358" width="2" height="1" fill="#000"/>
<text transform="translate(1689,361.3) scale(0.95,1)" font-family='"Liberation Sans","Noto Sans CJK SC",sans-serif' font-size="9.6" fill="#000" stroke="#000" stroke-width="0.22" >22852.0</text>
<rect x="1684" y="391" width="2" height="1" fill="#000"/>
<text transform="translate(1689,394.3) scale(0.95,1)" font-family='"Liberation Sans","Noto Sans CJK SC",sans-serif' font-size="9.6" fill="#000" stroke="#000" stroke-width="0.22" >22121.0</text>
<rect x="1684" y="424" width="2" height="1" fill="#000"/>
<text transform="translate(1689,427.3) scale(0.95,1)" font-family='"Liberation Sans","Noto Sans CJK SC",sans-serif' font-size="9.6" fill="#000" stroke="#000" stroke-width="0.22" >21411.5</text>
<rect x="1684" y="457" width="2" height="1" fill="#000"/>
<text transform="translate(1689,460.3) scale(0.95,1)" font-family='"Liberation Sans","Noto Sans CJK SC",sans-serif' font-size="9.6" fill="#000" stroke="#000" stroke-width="0.22" >20680.5</text>
<rect x="1684" y="490" width="2" height="1" fill="#000"/>
<text transform="translate(1689,493.3) scale(0.95,1)" font-family='"Liberation Sans","Noto Sans CJK SC",sans-serif' font-size="9.6" fill="#000" stroke="#000" stroke-width="0.22" >19949.5</text>
<rect x="1684" y="523" width="2" height="1" fill="#000"/>
<text transform="translate(1689,526.3) scale(0.95,1)" font-family='"Liberation Sans","Noto Sans CJK SC",sans-serif' font-size="9.6" fill="#000" stroke="#000" stroke-width="0.22" >19240.0</text>
<rect x="1684" y="556" width="2" height="1" fill="#000"/>
<text transform="translate(1689,559.3) scale(0.95,1)" font-family='"Liberation Sans","Noto Sans CJK SC",sans-serif' font-size="9.6" fill="#000" stroke="#000" stroke-width="0.22" >18509.0</text>
<rect x="1684" y="589" width="2" height="1" fill="#000"/>
<text transform="translate(1689,592.3) scale(0.95,1)" font-family='"Liberation Sans","Noto Sans CJK SC",sans-serif' font-size="9.6" fill="#000" stroke="#000" stroke-width="0.22" >17799.5</text>
<rect x="1685" y="210" width="41" height="11" fill="#000"/><text transform="translate(1689,218.6) scale(0.95,1)" font-family='"Liberation Sans","Noto Sans CJK SC",sans-serif' font-size="9.6" fill="#fff" stroke="#fff" stroke-width="0.22" >25983.0</text>
<rect x="1685" y="167" width="41" height="11" fill="#ff0000"/><text transform="translate(1689,175.6) scale(0.95,1)" font-family='"Liberation Sans","Noto Sans CJK SC",sans-serif' font-size="9.6" fill="#fff" stroke="#fff" stroke-width="0.22" >26899.7</text>
<rect x="1685" y="184" width="41" height="11" fill="#ff0000"/><text transform="translate(1689,192.6) scale(0.95,1)" font-family='"Liberation Sans","Noto Sans CJK SC",sans-serif' font-size="9.6" fill="#fff" stroke="#fff" stroke-width="0.22" >26527.9</text>
<rect x="1685" y="202" width="41" height="11" fill="#32cd32"/><text transform="translate(1689,210.6) scale(0.95,1)" font-family='"Liberation Sans","Noto Sans CJK SC",sans-serif' font-size="9.6" fill="#fff" stroke="#fff" stroke-width="0.22" >26134.2</text>
<rect x="1685" y="235" width="41" height="11" fill="#0000ff"/><text transform="translate(1689,243.6) scale(0.95,1)" font-family='"Liberation Sans","Noto Sans CJK SC",sans-serif' font-size="9.6" fill="#fff" stroke="#fff" stroke-width="0.22" >25412.3</text>
<rect x="1685" y="261" width="41" height="11" fill="#0000ff"/><text transform="translate(1689,269.6) scale(0.95,1)" font-family='"Liberation Sans","Noto Sans CJK SC",sans-serif' font-size="9.6" fill="#fff" stroke="#fff" stroke-width="0.22" >24843.7</text>
<text transform="translate(7.3,36.7) scale(0.972,1)" font-family='"Liberation Sans","Noto Sans CJK SC",sans-serif' font-size="9.6" fill="#000" stroke="#000" stroke-width="0.22" xml:space="preserve">DJ30-,Daily  26058.0 26289.0 25511.0 25983.0</text>
<polygon points="-1.5,36 0.3,33.3 2.1,36" fill="#000" shape-rendering="auto"/>
<rect x="0" y="631" width="1" height="11" fill="#c0c0c0"/>
<rect x="8" y="632" width="1" height="10" fill="#c0c0c0"/>
<rect x="16" y="632" width="1" height="10" fill="#c0c0c0"/>
<rect x="24" y="632" width="1" height="10" fill="#c0c0c0"/>
<rect x="32" y="633" width="1" height="9" fill="#c0c0c0"/>
<rect x="40" y="634" width="1" height="8" fill="#c0c0c0"/>
<rect x="48" y="636" width="1" height="6" fill="#c0c0c0"/>
<rect x="56" y="636" width="1" height="6" fill="#c0c0c0"/>
<rect x="64" y="636" width="1" height="6" fill="#c0c0c0"/>
<rect x="72" y="636" width="1" height="6" fill="#c0c0c0"/>
<rect x="80" y="636" width="1" height="6" fill="#c0c0c0"/>
<rect x="88" y="636" width="1" height="6" fill="#c0c0c0"/>
<rect x="96" y="636" width="1" height="6" fill="#c0c0c0"/>
<rect x="104" y="636" width="1" height="6" fill="#c0c0c0"/>
<rect x="112" y="635" width="1" height="7" fill="#c0c0c0"/>
<rect x="120" y="635" width="1" height="7" fill="#c0c0c0"/>
<rect x="128" y="635" width="1" height="7" fill="#c0c0c0"/>
<rect x="136" y="634" width="1" height="8" fill="#c0c0c0"/>
<rect x="144" y="634" width="1" height="8" fill="#c0c0c0"/>
<rect x="152" y="634" width="1" height="8" fill="#c0c0c0"/>
<rect x="160" y="633" width="1" height="9" fill="#c0c0c0"/>
<rect x="168" y="632" width="1" height="10" fill="#c0c0c0"/>
<rect x="176" y="632" width="1" height="10" fill="#c0c0c0"/>
<rect x="184" y="632" width="1" height="10" fill="#c0c0c0"/>
<rect x="192" y="632" width="1" height="10" fill="#c0c0c0"/>
<rect x="200" y="632" width="1" height="10" fill="#c0c0c0"/>
<rect x="208" y="632" width="1" height="10" fill="#c0c0c0"/>
<rect x="216" y="632" width="1" height="10" fill="#c0c0c0"/>
<rect x="224" y="632" width="1" height="10" fill="#c0c0c0"/>
<rect x="232" y="633" width="1" height="9" fill="#c0c0c0"/>
<rect x="240" y="634" width="1" height="8" fill="#c0c0c0"/>
<rect x="248" y="634" width="1" height="8" fill="#c0c0c0"/>
<rect x="256" y="632" width="1" height="10" fill="#c0c0c0"/>
<rect x="264" y="633" width="1" height="9" fill="#c0c0c0"/>
<rect x="272" y="634" width="1" height="8" fill="#c0c0c0"/>
<rect x="280" y="634" width="1" height="8" fill="#c0c0c0"/>
<rect x="288" y="636" width="1" height="6" fill="#c0c0c0"/>
<rect x="296" y="634" width="1" height="8" fill="#c0c0c0"/>
<rect x="304" y="634" width="1" height="8" fill="#c0c0c0"/>
<rect x="312" y="634" width="1" height="8" fill="#c0c0c0"/>
<rect x="320" y="634" width="1" height="8" fill="#c0c0c0"/>
<rect x="328" y="634" width="1" height="8" fill="#c0c0c0"/>
<rect x="336" y="634" width="1" height="8" fill="#c0c0c0"/>
<rect x="344" y="634" width="1" height="8" fill="#c0c0c0"/>
<rect x="352" y="634" width="1" height="8" fill="#c0c0c0"/>
<rect x="360" y="632" width="1" height="10" fill="#c0c0c0"/>
<rect x="368" y="632" width="1" height="10" fill="#c0c0c0"/>
<rect x="376" y="632" width="1" height="10" fill="#c0c0c0"/>
<rect x="384" y="632" width="1" height="10" fill="#c0c0c0"/>
<rect x="392" y="632" width="1" height="10" fill="#c0c0c0"/>
<rect x="400" y="632" width="1" height="10" fill="#c0c0c0"/>
<rect x="408" y="634" width="1" height="8" fill="#c0c0c0"/>
<rect x="416" y="636" width="1" height="6" fill="#c0c0c0"/>
<rect x="424" y="638" width="1" height="4" fill="#c0c0c0"/>
<rect x="432" y="639" width="1" height="3" fill="#c0c0c0"/>
<rect x="440" y="640" width="1" height="2" fill="#c0c0c0"/>
<rect x="448" y="640" width="1" height="2" fill="#c0c0c0"/>
<rect x="464" y="641" width="1" height="2" fill="#c0c0c0"/>
<rect x="472" y="641" width="1" height="3" fill="#c0c0c0"/>
<rect x="480" y="641" width="1" height="3" fill="#c0c0c0"/>
<rect x="488" y="641" width="1" height="1" fill="#c0c0c0"/>
<rect x="504" y="640" width="1" height="2" fill="#c0c0c0"/>
<rect x="512" y="639" width="1" height="3" fill="#c0c0c0"/>
<rect x="520" y="638" width="1" height="4" fill="#c0c0c0"/>
<rect x="528" y="638" width="1" height="4" fill="#c0c0c0"/>
<rect x="536" y="636" width="1" height="6" fill="#c0c0c0"/>
<rect x="544" y="635" width="1" height="7" fill="#c0c0c0"/>
<rect x="552" y="635" width="1" height="7" fill="#c0c0c0"/>
<rect x="560" y="634" width="1" height="8" fill="#c0c0c0"/>
<rect x="568" y="634" width="1" height="8" fill="#c0c0c0"/>
<rect x="576" y="635" width="1" height="7" fill="#c0c0c0"/>
<rect x="584" y="635" width="1" height="7" fill="#c0c0c0"/>
<rect x="592" y="636" width="1" height="6" fill="#c0c0c0"/>
<rect x="600" y="637" width="1" height="5" fill="#c0c0c0"/>
<rect x="608" y="640" width="1" height="2" fill="#c0c0c0"/>
<rect x="624" y="641" width="1" height="7" fill="#c0c0c0"/>
<rect x="632" y="641" width="1" height="13" fill="#c0c0c0"/>
<rect x="640" y="641" width="1" height="22" fill="#c0c0c0"/>
<rect x="648" y="641" width="1" height="29" fill="#c0c0c0"/>
<rect x="656" y="641" width="1" height="36" fill="#c0c0c0"/>
<rect x="664" y="641" width="1" height="35" fill="#c0c0c0"/>
<rect x="672" y="641" width="1" height="37" fill="#c0c0c0"/>
<rect x="680" y="641" width="1" height="35" fill="#c0c0c0"/>
<rect x="688" y="641" width="1" height="35" fill="#c0c0c0"/>
<rect x="696" y="641" width="1" height="36" fill="#c0c0c0"/>
<rect x="704" y="641" width="1" height="40" fill="#c0c0c0"/>
<rect x="712" y="641" width="1" height="44" fill="#c0c0c0"/>
<rect x="720" y="641" width="1" height="46" fill="#c0c0c0"/>
<rect x="728" y="641" width="1" height="51" fill="#c0c0c0"/>
<rect x="736" y="641" width="1" height="64" fill="#c0c0c0"/>
<rect x="744" y="641" width="1" height="65" fill="#c0c0c0"/>
<rect x="752" y="641" width="1" height="69" fill="#c0c0c0"/>
<rect x="760" y="641" width="1" height="76" fill="#c0c0c0"/>
<rect x="768" y="641" width="1" height="83" fill="#c0c0c0"/>
<rect x="776" y="641" width="1" height="85" fill="#c0c0c0"/>
<rect x="784" y="641" width="1" height="91" fill="#c0c0c0"/>
<rect x="792" y="641" width="1" height="95" fill="#c0c0c0"/>
<rect x="800" y="641" width="1" height="100" fill="#c0c0c0"/>
<rect x="808" y="641" width="1" height="102" fill="#c0c0c0"/>
<rect x="816" y="641" width="1" height="95" fill="#c0c0c0"/>
<rect x="824" y="641" width="1" height="87" fill="#c0c0c0"/>
<rect x="832" y="641" width="1" height="74" fill="#c0c0c0"/>
<rect x="840" y="641" width="1" height="67" fill="#c0c0c0"/>
<rect x="848" y="641" width="1" height="62" fill="#c0c0c0"/>
<rect x="856" y="641" width="1" height="54" fill="#c0c0c0"/>
<rect x="864" y="641" width="1" height="49" fill="#c0c0c0"/>
<rect x="872" y="641" width="1" height="47" fill="#c0c0c0"/>
<rect x="880" y="641" width="1" height="44" fill="#c0c0c0"/>
<rect x="888" y="641" width="1" height="41" fill="#c0c0c0"/>
<rect x="896" y="641" width="1" height="38" fill="#c0c0c0"/>
<rect x="904" y="641" width="1" height="30" fill="#c0c0c0"/>
<rect x="912" y="641" width="1" height="24" fill="#c0c0c0"/>
<rect x="920" y="641" width="1" height="16" fill="#c0c0c0"/>
<rect x="928" y="641" width="1" height="8" fill="#c0c0c0"/>
<rect x="936" y="641" width="1" height="4" fill="#c0c0c0"/>
<rect x="952" y="637" width="1" height="5" fill="#c0c0c0"/>
<rect x="960" y="635" width="1" height="7" fill="#c0c0c0"/>
<rect x="968" y="631" width="1" height="11" fill="#c0c0c0"/>
<rect x="976" y="628" width="1" height="14" fill="#c0c0c0"/>
<rect x="984" y="626" width="1" height="16" fill="#c0c0c0"/>
<rect x="992" y="626" width="1" height="16" fill="#c0c0c0"/>
<rect x="1000" y="628" width="1" height="14" fill="#c0c0c0"/>
<rect x="1008" y="629" width="1" height="13" fill="#c0c0c0"/>
<rect x="1016" y="629" width="1" height="13" fill="#c0c0c0"/>
<rect x="1024" y="630" width="1" height="12" fill="#c0c0c0"/>
<rect x="1032" y="630" width="1" height="12" fill="#c0c0c0"/>
<rect x="1040" y="629" width="1" height="13" fill="#c0c0c0"/>
<rect x="1048" y="628" width="1" height="14" fill="#c0c0c0"/>
<rect x="1056" y="625" width="1" height="17" fill="#c0c0c0"/>
<rect x="1064" y="625" width="1" height="17" fill="#c0c0c0"/>
<rect x="1072" y="627" width="1" height="15" fill="#c0c0c0"/>
<rect x="1080" y="630" width="1" height="12" fill="#c0c0c0"/>
<rect x="1088" y="631" width="1" height="11" fill="#c0c0c0"/>
<rect x="1096" y="631" width="1" height="11" fill="#c0c0c0"/>
<rect x="1104" y="633" width="1" height="9" fill="#c0c0c0"/>
<rect x="1112" y="632" width="1" height="10" fill="#c0c0c0"/>
<rect x="1120" y="631" width="1" height="11" fill="#c0c0c0"/>
<rect x="1128" y="630" width="1" height="12" fill="#c0c0c0"/>
<rect x="1136" y="630" width="1" height="12" fill="#c0c0c0"/>
<rect x="1144" y="633" width="1" height="9" fill="#c0c0c0"/>
<rect x="1152" y="636" width="1" height="6" fill="#c0c0c0"/>
<rect x="1160" y="637" width="1" height="5" fill="#c0c0c0"/>
<rect x="1168" y="638" width="1" height="4" fill="#c0c0c0"/>
<rect x="1176" y="638" width="1" height="4" fill="#c0c0c0"/>
<rect x="1184" y="635" width="1" height="7" fill="#c0c0c0"/>
<rect x="1192" y="634" width="1" height="8" fill="#c0c0c0"/>
<rect x="1200" y="634" width="1" height="8" fill="#c0c0c0"/>
<rect x="1208" y="632" width="1" height="10" fill="#c0c0c0"/>
<rect x="1216" y="631" width="1" height="11" fill="#c0c0c0"/>
<rect x="1224" y="630" width="1" height="12" fill="#c0c0c0"/>
<rect x="1232" y="630" width="1" height="12" fill="#c0c0c0"/>
<rect x="1240" y="628" width="1" height="14" fill="#c0c0c0"/>
<rect x="1248" y="624" width="1" height="18" fill="#c0c0c0"/>
<rect x="1256" y="623" width="1" height="19" fill="#c0c0c0"/>
<rect x="1264" y="622" width="1" height="20" fill="#c0c0c0"/>
<rect x="1272" y="622" width="1" height="20" fill="#c0c0c0"/>
<rect x="1280" y="621" width="1" height="21" fill="#c0c0c0"/>
<rect x="1288" y="620" width="1" height="22" fill="#c0c0c0"/>
<rect x="1296" y="617" width="1" height="25" fill="#c0c0c0"/>
<rect x="1304" y="616" width="1" height="26" fill="#c0c0c0"/>
<rect x="1312" y="612" width="1" height="30" fill="#c0c0c0"/>
<rect x="1320" y="608" width="1" height="34" fill="#c0c0c0"/>
<rect x="1328" y="605" width="1" height="37" fill="#c0c0c0"/>
<rect x="1336" y="604" width="1" height="38" fill="#c0c0c0"/>
<rect x="1344" y="605" width="1" height="37" fill="#c0c0c0"/>
<rect x="1352" y="611" width="1" height="31" fill="#c0c0c0"/>
<rect x="1360" y="616" width="1" height="26" fill="#c0c0c0"/>
<rect x="1368" y="621" width="1" height="21" fill="#c0c0c0"/>
<rect x="1376" y="623" width="1" height="19" fill="#c0c0c0"/>
<rect x="1384" y="623" width="1" height="19" fill="#c0c0c0"/>
<rect x="1392" y="625" width="1" height="17" fill="#c0c0c0"/>
<rect x="1400" y="626" width="1" height="16" fill="#c0c0c0"/>
<rect x="1408" y="629" width="1" height="13" fill="#c0c0c0"/>
<rect x="1416" y="632" width="1" height="10" fill="#c0c0c0"/>
<rect x="1424" y="632" width="1" height="10" fill="#c0c0c0"/>
<rect x="1432" y="632" width="1" height="10" fill="#c0c0c0"/>
<polyline points="0.0,631.0 30.0,631.5 60.0,631.9 75.0,633.5 90.0,635.5 100.0,636.2 150.0,636.2 170.0,635.2 190.0,633.1 230.0,632.8 270.0,632.5 285.0,633.5 300.0,634.6 340.0,634.2 370.0,633.1 395.0,632.1 410.0,631.5 420.0,632.5 435.0,633.1 450.0,635.2 460.0,636.7 470.0,639.2 485.0,641.2 500.0,641.4 520.0,641.4 530.0,640.2 540.0,638.7 555.0,636.7 575.0,636.0 590.0,634.6 603.0,634.6 617.0,636.4 629.0,638.4 635.0,640.6 641.0,643.7 647.7,646.7 653.6,650.5 659.6,654.0 665.5,657.3 671.4,660.6 677.4,663.8 683.3,666.5 689.3,669.6 695.6,672.1 701.5,674.2 707.5,676.1 713.1,677.5 720.0,679.3 735.0,683.1 745.0,687.6 760.0,696.0 770.0,702.2 785.0,712.2 800.0,722.4 810.0,727.8 818.0,731.3 828.0,731.7 845.0,728.8 855.0,724.0 865.0,718.4 880.0,705.3 890.0,698.0 905.0,689.3 920.0,680.3 930.0,673.5 945.0,663.7 955.0,656.8 970.0,647.5 978.0,642.3 990.0,636.7 1000.0,632.5 1010.0,629.8 1020.0,628.3 1050.0,628.3 1060.0,627.3 1100.0,627.3 1110.0,628.3 1125.0,629.0 1135.0,630.4 1150.0,631.5 1165.0,632.5 1175.0,633.5 1195.0,633.5 1205.0,634.6 1220.0,634.2 1235.0,632.5 1250.0,630.4 1260.0,628.3 1275.0,626.3 1290.0,623.1 1300.0,621.5 1310.0,619.0 1320.0,616.9 1330.0,614.2 1340.0,612.3 1350.0,610.2 1360.0,609.2 1370.0,610.2 1385.0,612.3 1395.0,614.8 1405.0,617.3 1415.0,622.1 1425.0,623.5 1432.0,625.6" fill="none" stroke="#ff0000" stroke-width="1" stroke-dasharray="3 3"/>
<text transform="translate(-2,607.1) scale(0.963,1)" font-family='"Liberation Sans","Noto Sans CJK SC",sans-serif' font-size="9.6" fill="#000" stroke="#000" stroke-width="0.22" >MACD(12,26,9) 217.44 335.31</text>
<text transform="translate(1687.2,604.1) scale(0.95,1)" font-family='"Liberation Sans","Noto Sans CJK SC",sans-serif' font-size="9.6" fill="#000" stroke="#000" stroke-width="0.22" >1024.52</text>
<text transform="translate(1687.2,644.3) scale(0.95,1)" font-family='"Liberation Sans","Noto Sans CJK SC",sans-serif' font-size="9.6" fill="#000" stroke="#000" stroke-width="0.22" >0.00</text>
<text transform="translate(1687.2,746.2) scale(0.95,1)" font-family='"Liberation Sans","Noto Sans CJK SC",sans-serif' font-size="9.6" fill="#000" stroke="#000" stroke-width="0.22" >-2433.25</text>
<rect x="1684" y="596" width="1" height="1" fill="#000"/>
<rect x="1684" y="641" width="1" height="1" fill="#000"/>
<rect x="1684" y="749" width="1" height="1" fill="#000"/>
<line x1="-1" y1="788.5" x2="1683" y2="788.5" stroke="#c0c0c0" stroke-width="1" stroke-dasharray="3 3"/>
<line x1="-1" y1="839.5" x2="1683" y2="839.5" stroke="#c0c0c0" stroke-width="1" stroke-dasharray="3 3"/>
<line x1="-1" y1="900.5" x2="1683" y2="900.5" stroke="#c0c0c0" stroke-width="1" stroke-dasharray="3 3"/>
<polyline points="0.0,802.0 8.0,807.2 16.0,805.1 24.0,810.3 32.0,808.3 40.0,837.4 48.0,853.4 56.0,845.3 64.0,841.6 72.0,824.3 80.0,824.3 88.0,831.1 96.0,832.6 104.0,829.1 112.0,815.5 120.0,821.4 128.0,821.4 136.0,819.3 144.0,816.6 152.0,815.5 160.0,810.3 168.0,806.8 176.0,805.1 184.0,803.5 192.0,809.7 200.0,808.3 208.0,803.5 216.0,804.5 224.0,802.4 232.0,822.2 240.0,817.6 248.0,816.2 256.0,801.4 264.0,824.5 272.0,831.6 280.0,825.5 288.0,845.7 296.0,822.8 304.0,818.2 312.0,826.6 320.0,825.3 328.0,821.2 336.0,825.3 344.0,817.6 352.0,810.3 360.0,811.4 368.0,810.3 376.0,811.8 384.0,818.2 392.0,824.9 400.0,821.4 408.0,835.3 416.0,848.2 424.0,853.0 432.0,845.3 440.0,844.3 448.0,839.5 456.0,862.4 464.0,861.3 472.0,856.7 480.0,839.5 488.0,822.4 496.0,818.0 504.0,831.6 512.0,835.9 520.0,826.4 528.0,825.3 536.0,821.4 544.0,822.4 552.0,822.4 560.0,820.3 568.0,824.9 576.0,828.4 584.0,825.3 592.0,839.9 600.0,843.6 608.0,856.1 616.0,870.7 624.0,884.8 632.0,888.8 640.0,899.2 648.0,900.4 656.0,903.3 664.0,861.7 672.0,870.1 680.0,851.5 688.0,859.2 696.0,862.8 704.0,871.7 712.0,875.5 720.0,871.3 728.0,878.4 736.0,891.5 744.0,864.4 752.0,870.3 760.0,876.3 768.0,878.4 776.0,878.4 784.0,881.5 792.0,883.2 800.0,887.3 808.0,879.4 816.0,859.7 824.0,854.0 832.0,842.6 840.0,849.5 848.0,852.4 856.0,843.6 864.0,848.2 872.0,851.5 880.0,849.5 888.0,851.5 896.0,848.2 904.0,835.3 912.0,836.4 920.0,829.1 928.0,827.4 936.0,831.6 944.0,830.1 952.0,826.4 960.0,833.2 968.0,825.3 976.0,825.3 984.0,827.0 992.0,832.8 1000.0,839.5 1008.0,836.4 1016.0,835.9 1024.0,831.6 1032.0,832.6 1040.0,828.0 1048.0,827.6 1056.0,820.7 1064.0,829.5 1072.0,835.7 1080.0,841.1 1088.0,836.4 1096.0,833.2 1104.0,839.1 1112.0,832.6 1120.0,827.6 1128.0,826.4 1136.0,831.1 1144.0,843.2 1152.0,846.3 1160.0,839.5 1168.0,841.1 1176.0,837.4 1184.0,824.3 1192.0,831.1 1200.0,827.4 1208.0,827.4 1216.0,828.4 1224.0,826.4 1232.0,824.3 1240.0,819.7 1248.0,809.7 1256.0,817.2 1264.0,815.5 1272.0,821.4 1280.0,820.3 1288.0,812.4 1296.0,805.6 1304.0,808.3 1312.0,798.5 1320.0,796.4 1328.0,794.3 1336.0,798.9 1344.0,814.5 1352.0,842.6 1360.0,839.5 1368.0,844.3 1376.0,831.8 1384.0,829.5 1392.0,835.3 1400.0,832.6 1408.0,840.9 1416.0,842.2 1424.0,832.6 1432.0,834.3" fill="none" stroke="#1e90ff" stroke-width="1"/>
<text transform="translate(-2.5,765.1) scale(0.943,1)" font-family='"Liberation Sans","Noto Sans CJK SC",sans-serif' font-size="9.6" fill="#000" stroke="#000" stroke-width="0.22" >RSI(14) 53.2108</text>
<text transform="translate(1687.2,762.4) scale(0.95,1)" font-family='"Liberation Sans","Noto Sans CJK SC",sans-serif' font-size="9.6" fill="#000" stroke="#000" stroke-width="0.22" >100</text>
<text transform="translate(1687.2,791.5) scale(0.95,1)" font-family='"Liberation Sans","Noto Sans CJK SC",sans-serif' font-size="9.6" fill="#000" stroke="#000" stroke-width="0.22" >80</text>
<text transform="translate(1687.2,842.8) scale(0.95,1)" font-family='"Liberation Sans","Noto Sans CJK SC",sans-serif' font-size="9.6" fill="#000" stroke="#000" stroke-width="0.22" >50</text>
<text transform="translate(1687.2,903.4) scale(0.95,1)" font-family='"Liberation Sans","Noto Sans CJK SC",sans-serif' font-size="9.6" fill="#000" stroke="#000" stroke-width="0.22" >15</text>
<text transform="translate(1687.2,922.4) scale(0.95,1)" font-family='"Liberation Sans","Noto Sans CJK SC",sans-serif' font-size="9.6" fill="#000" stroke="#000" stroke-width="0.22" >0</text>
<rect x="1684" y="754" width="1" height="1" fill="#000"/>
<rect x="1684" y="926" width="1" height="1" fill="#000"/>
<rect x="-8" y="927" width="1" height="3" fill="#000"/>
<text transform="translate(-9,939.0) scale(0.975,1)" font-family='"Liberation Sans","Noto Sans CJK SC",sans-serif' font-size="9.6" fill="#000" stroke="#000" stroke-width="0.22" >25 Nov 2019</text>
<rect x="56" y="927" width="1" height="3" fill="#000"/>
<text transform="translate(55,939.0) scale(0.975,1)" font-family='"Liberation Sans","Noto Sans CJK SC",sans-serif' font-size="9.6" fill="#000" stroke="#000" stroke-width="0.22" >4 Dec 2019</text>
<rect x="120" y="927" width="1" height="3" fill="#000"/>
<text transform="translate(119,939.0) scale(0.975,1)" font-family='"Liberation Sans","Noto Sans CJK SC",sans-serif' font-size="9.6" fill="#000" stroke="#000" stroke-width="0.22" >13 Dec 2019</text>
<rect x="184" y="927" width="1" height="3" fill="#000"/>
<text transform="translate(183,939.0) scale(0.975,1)" font-family='"Liberation Sans","Noto Sans CJK SC",sans-serif' font-size="9.6" fill="#000" stroke="#000" stroke-width="0.22" >23 Dec 2019</text>
<rect x="248" y="927" width="1" height="3" fill="#000"/>
<text transform="translate(247,939.0) scale(0.975,1)" font-family='"Liberation Sans","Noto Sans CJK SC",sans-serif' font-size="9.6" fill="#000" stroke="#000" stroke-width="0.22" >1 Jan 2020</text>
<rect x="312" y="927" width="1" height="3" fill="#000"/>
<text transform="translate(311,939.0) scale(0.975,1)" font-family='"Liberation Sans","Noto Sans CJK SC",sans-serif' font-size="9.6" fill="#000" stroke="#000" stroke-width="0.22" >10 Jan 2020</text>
<rect x="376" y="927" width="1" height="3" fill="#000"/>
<text transform="translate(375,939.0) scale(0.975,1)" font-family='"Liberation Sans","Noto Sans CJK SC",sans-serif' font-size="9.6" fill="#000" stroke="#000" stroke-width="0.22" >20 Jan 2020</text>
<rect x="440" y="927" width="1" height="3" fill="#000"/>
<text transform="translate(439,939.0) scale(0.975,1)" font-family='"Liberation Sans","Noto Sans CJK SC",sans-serif' font-size="9.6" fill="#000" stroke="#000" stroke-width="0.22" >29 Jan 2020</text>
<rect x="504" y="927" width="1" height="3" fill="#000"/>
<text transform="translate(503,939.0) scale(0.975,1)" font-family='"Liberation Sans","Noto Sans CJK SC",sans-serif' font-size="9.6" fill="#000" stroke="#000" stroke-width="0.22" >7 Feb 2020</text>
<rect x="568" y="927" width="1" height="3" fill="#000"/>
<text transform="translate(567,939.0) scale(0.975,1)" font-family='"Liberation Sans","Noto Sans CJK SC",sans-serif' font-size="9.6" fill="#000" stroke="#000" stroke-width="0.22" >17 Feb 2020</text>
<rect x="632" y="927" width="1" height="3" fill="#000"/>
<text transform="translate(631,939.0) scale(0.975,1)" font-family='"Liberation Sans","Noto Sans CJK SC",sans-serif' font-size="9.6" fill="#000" stroke="#000" stroke-width="0.22" >26 Feb 2020</text>
<rect x="696" y="927" width="1" height="3" fill="#000"/>
<text transform="translate(695,939.0) scale(0.975,1)" font-family='"Liberation Sans","Noto Sans CJK SC",sans-serif' font-size="9.6" fill="#000" stroke="#000" stroke-width="0.22" >6 Mar 2020</text>
<rect x="760" y="927" width="1" height="3" fill="#000"/>
<text transform="translate(759,939.0) scale(0.975,1)" font-family='"Liberation Sans","Noto Sans CJK SC",sans-serif' font-size="9.6" fill="#000" stroke="#000" stroke-width="0.22" >16 Mar 2020</text>
<rect x="824" y="927" width="1" height="3" fill="#000"/>
<text transform="translate(823,939.0) scale(0.975,1)" font-family='"Liberation Sans","Noto Sans CJK SC",sans-serif' font-size="9.6" fill="#000" stroke="#000" stroke-width="0.22" >25 Mar 2020</text>
<rect x="888" y="927" width="1" height="3" fill="#000"/>
<text transform="translate(887,939.0) scale(0.975,1)" font-family='"Liberation Sans","Noto Sans CJK SC",sans-serif' font-size="9.6" fill="#000" stroke="#000" stroke-width="0.22" >3 Apr 2020</text>
<rect x="952" y="927" width="1" height="3" fill="#000"/>
<text transform="translate(951,939.0) scale(0.975,1)" font-family='"Liberation Sans","Noto Sans CJK SC",sans-serif' font-size="9.6" fill="#000" stroke="#000" stroke-width="0.22" >14 Apr 2020</text>
<rect x="1016" y="927" width="1" height="3" fill="#000"/>
<text transform="translate(1015,939.0) scale(0.975,1)" font-family='"Liberation Sans","Noto Sans CJK SC",sans-serif' font-size="9.6" fill="#000" stroke="#000" stroke-width="0.22" >23 Apr 2020</text>
<rect x="1080" y="927" width="1" height="3" fill="#000"/>
<text transform="translate(1079,939.0) scale(0.975,1)" font-family='"Liberation Sans","Noto Sans CJK SC",sans-serif' font-size="9.6" fill="#000" stroke="#000" stroke-width="0.22" >3 May 2020</text>
<rect x="1144" y="927" width="1" height="3" fill="#000"/>
<text transform="translate(1143,939.0) scale(0.975,1)" font-family='"Liberation Sans","Noto Sans CJK SC",sans-serif' font-size="9.6" fill="#000" stroke="#000" stroke-width="0.22" >12 May 2020</text>
<rect x="1208" y="927" width="1" height="3" fill="#000"/>
<text transform="translate(1207,939.0) scale(0.975,1)" font-family='"Liberation Sans","Noto Sans CJK SC",sans-serif' font-size="9.6" fill="#000" stroke="#000" stroke-width="0.22" >21 May 2020</text>
<rect x="1272" y="927" width="1" height="3" fill="#000"/>
<text transform="translate(1271,939.0) scale(0.975,1)" font-family='"Liberation Sans","Noto Sans CJK SC",sans-serif' font-size="9.6" fill="#000" stroke="#000" stroke-width="0.22" >31 May 2020</text>
<rect x="1336" y="927" width="1" height="3" fill="#000"/>
<text transform="translate(1335,939.0) scale(0.975,1)" font-family='"Liberation Sans","Noto Sans CJK SC",sans-serif' font-size="9.6" fill="#000" stroke="#000" stroke-width="0.22" >9 Jun 2020</text>
<rect x="1400" y="927" width="1" height="3" fill="#000"/>
<text transform="translate(1399,939.0) scale(0.975,1)" font-family='"Liberation Sans","Noto Sans CJK SC",sans-serif' font-size="9.6" fill="#000" stroke="#000" stroke-width="0.22" >18 Jun 2020</text>
</svg>
<div class="tb">
<svg style="left:-9px;top:1px" width="16" height="18" viewBox="0 0 16 18"><rect x="1.5" y="2.5" width="13" height="13" rx="1" fill="#fff" stroke="#3a78d0"/><path d="M3 6.5H13M3 9.5H13M3 12.5H13" stroke="#9cc0f0"/></svg>
<svg style="left:19px;top:1px" width="19" height="18" viewBox="0 0 19 18"><rect x="1.5" y="1.5" width="12" height="13" fill="#fbf7ee" stroke="#b8b0a0"/><path d="M4.5 3v8M10.5 3v7M3 5h3M9 4.5h3" stroke="#707880"/><circle cx="8.5" cy="9" r="4.6" fill="#cfe4fb" fill-opacity=".85" stroke="#7fa8e0"/><path d="M12 12.5l5 4.2" stroke="#c89a28" stroke-width="2.2" stroke-linecap="round"/></svg>
<div class="sep" style="left:44px"></div>
<svg style="left:53px;top:1px" width="18" height="18" viewBox="0 0 18 18"><path d="M1.5 1.5h7l3.5 3.5v9.500h-10.5z" fill="#fff" stroke="#8a8a8a"/><path d="M8.5 1.500v3.500h3.500" fill="#e8e8e8" stroke="#8a8a8a"/><path d="M3.5 4.500h3M3.500 7.500h5M3.500 10.500h3" stroke="#8a8a8a"/><path d="M11.500 7v10M6.500 12h10" stroke="#0a9a14" stroke-width="3.600"/><path d="M11.500 8v8M7.500 12h8" stroke="#3fd64a" stroke-width="1.600"/></svg>
<div class="t" style="left:73px">新订单</div>
<svg style="left:120px;top:1px" width="18" height="18" viewBox="0 0 18 18"><path d="M1 10L7.500 2l9.500 6.500-6.800 8.200z" fill="#b8821a"/><path d="M1.300 9.200L7.500 2l9.500 6.200-6.800 7z" fill="#fff4cf"/><path d="M1.300 8.300L7.500 1.500l9.500 6-6.800 7.200z" fill="#e9b530"/><path d="M3 8.300L7.800 3l7 4.500-4.800 5.500z" fill="#f7d76a"/></svg>
<svg style="left:148px;top:1px" width="18" height="18" viewBox="0 0 18 18"><rect x="3.500" y="1.500" width="9" height="9" fill="#3d8fe8" stroke="#1f62c0"/><path d="M5 4.500h6M5 6.500h3" stroke="#d8eaff"/><path d="M4 16.500a3 3 0 0 1 .5-5.900a3.600 3.600 0 0 1 6.800-.6a3.100 3.100 0 0 1 2.700 6.500z" fill="#eef4fc" stroke="#6a8fc8"/></svg>
<svg style="left:176px;top:1px" width="18" height="18" viewBox="0 0 18 18"><circle cx="8.500" cy="9" r="7" fill="none" stroke="#a9c3ee" stroke-width="1.200"/><circle cx="8.500" cy="9" r="4.500" fill="none" stroke="#5e8fdd" stroke-width="1.300"/><path d="M8.500 2a7 7 0 0 1 0 14z" fill="#b9e3b4" opacity=".85"/><path d="M8.500 4.500a4.500 4.500 0 0 1 0 9" fill="none" stroke="#4aae4a" stroke-width="1.300"/><circle cx="8.500" cy="9" r="1.600" fill="#2a62d0"/><path d="M8.500 9v8" stroke="#18a030" stroke-width="1.600"/></svg>
<svg style="left:203px;top:1px" width="19" height="18" viewBox="0 0 19 18"><path d="M2 6.500h13l-5.500 9.500h-3z" fill="#f2c230" stroke="#c8961a" stroke-width=".8"/><ellipse cx="8.500" cy="6.500" rx="7.500" ry="2.600" fill="#58a6ea" stroke="#2f78c8" stroke-width=".8"/><path d="M4.500 6a4 4.500 0 0 1 8 0z" fill="#7cc0f4" stroke="#2f78c8" stroke-width=".8"/><circle cx="13.500" cy="13.500" r="4.300" fill="#e0241c"/><rect x="11.800" y="11.800" width="3.400" height="3.400" fill="#fff"/></svg>
<div class="t" style="left:225px">自动交易</div>
<div class="sep" style="left:280px"></div>
<div class="grip" style="left:284px"></div>
<svg style="left:295px;top:1px" width="17" height="18" viewBox="0 0 17 18"><path d="M3.5 2 V14.5 M1 12.5 H15" stroke="#333" stroke-width="1" fill="none"/><path d="M15.5 12.5 l-2.5 -1.5 v3z" fill="#333"/><path d="M8.500 3v8M8.500 9h-2M8.500 4.500h2.500M11.500 4.500v3" stroke="#1a9a3a" stroke-width="1.200" fill="none"/></svg>
<div class="pressed" style="left:319px;width:24px"></div>
<svg style="left:323px;top:1px" width="17" height="18" viewBox="0 0 17 18"><path d="M3.5 2 V14.5 M1 12.5 H15" stroke="#333" stroke-width="1" fill="none"/><path d="M15.5 12.5 l-2.5 -1.5 v3z" fill="#333"/><path d="M9.500 1v10" stroke="#0c7a28"/><rect x="7.500" y="2.500" width="4" height="6" fill="#23b24a" stroke="#0c7a28"/></svg>
<svg style="left:351px;top:1px" width="17" height="18" viewBox="0 0 17 18"><path d="M3.5 2 V14.5 M1 12.5 H15" stroke="#333" stroke-width="1" fill="none"/><path d="M15.5 12.5 l-2.5 -1.5 v3z" fill="#333"/><path d="M3.500 10C6 3 9 3 10.500 6.500S13 9 14.500 9.500" stroke="#1a9a3a" stroke-width="1.200" fill="none"/></svg>
<div class="sep" style="left:375px"></div>
<svg style="left:384px;top:1px" width="18" height="18" viewBox="0 0 18 18"><circle cx="7" cy="7" r="5.300" fill="#dcebff" stroke="#3f7fd8" stroke-width="1.400"/><path d="M11 11l4.500 4.500" stroke="#d2a32a" stroke-width="2.400" stroke-linecap="round"/><path d="M4.300 7h5.400" stroke="#3f7fd8" stroke-width="1.500"/><path d="M7 4.300v5.400" stroke="#3f7fd8" stroke-width="1.500"/></svg>
<svg style="left:412px;top:1px" width="18" height="18" viewBox="0 0 18 18"><circle cx="7" cy="7" r="5.300" fill="#dcebff" stroke="#3f7fd8" stroke-width="1.400"/><path d="M11 11l4.500 4.500" stroke="#d2a32a" stroke-width="2.400" stroke-linecap="round"/><path d="M4.300 7h5.400" stroke="#3f7fd8" stroke-width="1.500"/></svg>
<svg style="left:440px;top:1px" width="18" height="18" viewBox="0 0 18 18"><rect x=".5" y="1.500" width="7" height="6.500" fill="#4cb050" stroke="#2f8a34"/><rect x="8.500" y="1.500" width="7" height="6.500" fill="#3b7fe0" stroke="#2a5fc0"/><rect x=".5" y="9.500" width="7" height="6.500" fill="#3b7fe0" stroke="#2a5fc0"/><rect x="8.500" y="9.500" width="7" height="6.500" fill="#4cb050" stroke="#2f8a34"/><path d="M2 5h4M10 5h4M2 13h4M10 13h4" stroke="#fff" stroke-width="1.600"/></svg>
<div class="sep" style="left:465px"></div>
<div class="sep" style="left:470px"></div>
<svg style="left:475px;top:1px" width="17" height="18" viewBox="0 0 17 18"><path d="M3.5 2 V14.5 M1 12.5 H15" stroke="#333" stroke-width="1" fill="none"/><path d="M15.5 12.5 l-2.5 -1.5 v3z" fill="#333"/><path d="M9 4l4 3-4 3z" fill="#2fc04a" stroke="#0c7a28" stroke-width=".8"/></svg>
<div class="sep" style="left:498px"></div>
<svg style="left:503px;top:1px" width="17" height="18" viewBox="0 0 17 18"><path d="M3.5 2 V14.5 M1 12.5 H15" stroke="#333" stroke-width="1" fill="none"/><path d="M15.5 12.5 l-2.5 -1.5 v3z" fill="#333"/><path d="M9.500 2v10" stroke="#2f6fd0" stroke-width="1.200"/><path d="M15 7h-4M11 7l2.500-2M11 7l2.500 2" stroke="#e03a1a" stroke-width="1.100" fill="none"/></svg>
<div class="sep" style="left:527px"></div>
<svg style="left:537px;top:1px" width="18" height="18" viewBox="0 0 18 18"><path d="M1.500 1.500h6l3 3v9h-9z" fill="#fff" stroke="#8a8a8a"/><path d="M4 4v6h3" stroke="#8a8a8a" fill="none"/><path d="M11.500 7v10M6.500 12h10" stroke="#0a9a14" stroke-width="3.600"/><path d="M11.500 8v8M7.500 12h8" stroke="#3fd64a" stroke-width="1.600"/></svg>
<div class="dd" style="left:559px"></div>
<svg style="left:574px;top:1px" width="18" height="18" viewBox="0 0 18 18"><circle cx="8.500" cy="9" r="7.300" fill="#2f6fd6" stroke="#1b4aa8"/><circle cx="8.500" cy="9" r="5" fill="#f4f8ff"/><path d="M8.500 5.500v3.800h3" stroke="#333" fill="none" stroke-width="1.100"/></svg>
<div class="dd" style="left:597px"></div>
<svg style="left:613px;top:1px" width="18" height="18" viewBox="0 0 18 18"><rect x=".5" y="2.500" width="16" height="13" fill="#f4f8ff" stroke="#3b7fe0"/><rect x=".5" y="2.500" width="16" height="3" fill="#3b7fe0"/><path d="M2 10l3-1 3 1 3-2 4 .5" stroke="#c03a1a" fill="none"/><path d="M2 13.500l3-1 3 1.500 3-1.500 4 0" stroke="#1a9a3a" fill="none"/></svg>
<div class="dd" style="left:637px"></div>
<div class="grip" style="left:653px"></div>
<div class="pressed" style="left:659px;width:24px"></div>
<svg style="left:664px;top:1px" width="14" height="18" viewBox="0 0 14 18"><path d="M2.500 2v12l3-2.800 2 4.300 1.800-.8-2-4.200h4z" fill="#333"/></svg>
<svg style="left:690px;top:1px" width="17" height="18" viewBox="0 0 17 18"><path d="M8.500 2v14M1.500 9h14" stroke="#444"/></svg>
<div class="sep" style="left:715px"></div>
<svg style="left:728px;top:1px" width="9" height="18" viewBox="0 0 9 18"><path d="M4.500 3v13" stroke="#444"/></svg>
<svg style="left:753px;top:1px" width="17" height="18" viewBox="0 0 17 18"><path d="M1 9.500h14" stroke="#444"/></svg>
<svg style="left:781px;top:1px" width="16" height="18" viewBox="0 0 16 18"><path d="M1.500 15l12.500-11" stroke="#444" shape-rendering="auto"/></svg>
<svg style="left:808px;top:1px" width="18" height="18" viewBox="0 0 18 18"><path d="M1 12l11-9M3 16l11-9M5 9.500l1.500 5M8 7l1.500 5M11 4.500l1.500 5" stroke="#444" stroke-width=".9" shape-rendering="auto"/><text x="13" y="17" font-size="6" font-weight="bold" font-family="Liberation Sans,sans-serif" fill="#333">E</text></svg>
<svg style="left:837px;top:1px" width="18" height="18" viewBox="0 0 18 18"><path d="M1 3.500h13M1 6.500h13M1 9.500h13M1 12.500h13" stroke="#555" stroke-dasharray="1 1"/><text x="11" y="17.500" font-size="6" font-weight="bold" font-family="Liberation Sans,sans-serif" fill="#333">F</text></svg>
<div class="t" style="left:867px;font-size:13px;color:#444;font-weight:bold;top:1px">A</div>
<svg style="left:893px;top:1px" width="16" height="18" viewBox="0 0 16 18"><rect x="1.500" y="3.500" width="12" height="12" fill="none" stroke="#555" stroke-dasharray="1 1"/><text x="4.200" y="13.500" font-size="10" font-weight="bold" font-family="Liberation Sans,sans-serif" fill="#333">T</text></svg>
<svg style="left:921px;top:1px" width="18" height="18" viewBox="0 0 18 18"><path d="M2 6l3.500-3.500 3.500 3.500-3.500 2z" fill="#333"/><path d="M8 12l3.500 3.500 3.500-3.500-3.500-2z" fill="#333"/><path d="M7 8l3 2" stroke="#333"/></svg>
<div class="dd" style="left:943px"></div>
<div class="sep" style="left:953px"></div>
<div class="grip" style="left:956px"></div>
<div class="p" style="left:975.5px">M1</div>
<div class="p" style="left:1003.6px">M5</div>
<div class="p" style="left:1032.3px">M15</div>
<div class="p" style="left:1060.4px">M30</div>
<div class="p" style="left:1088.3px">H1</div>
<div class="p" style="left:1115.5px">H4</div>
<div class="sep" style="left:1132px"></div>
<div class="pressed" style="left:1134px;width:23px"></div>
<div class="p" style="left:1144.5px">D1</div>
<div class="p" style="left:1173px">W1</div>
<div class="p" style="left:1200px">MN</div>
<div class="sep" style="left:1215px"></div>
<svg style="left:1675px;top:-0.5px" width="17" height="18" viewBox="0 0 17 18"><circle cx="10" cy="6.500" r="4.300" fill="#eaf2ff" stroke="#2f62d0" stroke-width="1.800"/><path d="M7 10l-5 5.500" stroke="#2f62d0" stroke-width="2.400" stroke-linecap="round"/></svg>
<svg style="left:1703px;top:-0.5px" width="24" height="18" viewBox="0 0 24 18"><path d="M9 2.500h10a2.500 2.500 0 0 1 2.500 2.500v3a2.500 2.500 0 0 1-2.500 2.500h-1l.5 2.500-3-2.500h-6.500a2.500 2.500 0 0 1-2.500-2.500v-3a2.500 2.500 0 0 1 2.500-2.500z" fill="#f4f4f4" stroke="#9a9a9a"/><path d="M3 8.500h7a2 2 0 0 1 2 2v2a2 2 0 0 1-2 2h-4l-2.500 2.300.5-2.300h-1a2 2 0 0 1-2-2v-2a2 2 0 0 1 2-2z" fill="#fcfcfc" stroke="#8a8a8a"/></svg>
</div>
<div class="trade">
  <div class="big s"><span class="sm" style="left:12px">25981</span><span class="lg" style="left:48.5px">.5</span></div>
  <div class="big b"><span class="sm" style="left:14px">25991</span><span class="lg" style="left:52.5px">.5</span></div>
  <div class="sell"><span class="nx">SELL</span></div><div class="sl"></div>
  <div class="buy"><span class="nx">BUY</span></div><div class="bl"></div>
  <div class="vol"><div class="sp" style="left:1px"><div class="tri-d"></div></div><span class="v">1.00</span><div class="sp" style="right:1px"><div class="tri-u"></div></div></div>
</div>
</body>
</html>
